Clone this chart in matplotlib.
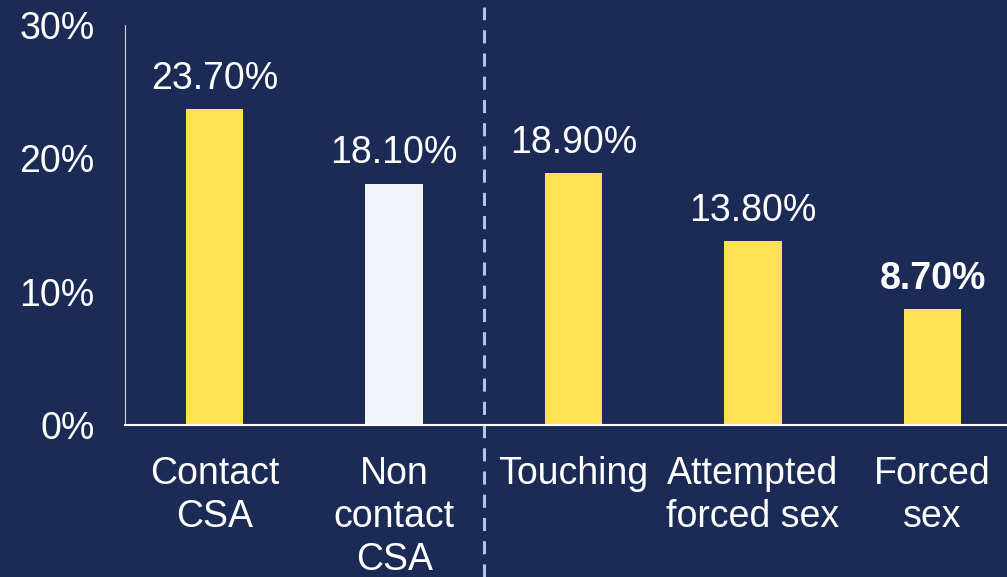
import matplotlib.pyplot as plt

categories = ["Contact\nCSA", "Non\ncontact\nCSA", "Touching", "Attempted\nforced sex", "Forced\nsex"]
values = [23.7, 18.1, 18.9, 13.8, 8.7]
value_labels = ["23.70%", "18.10%", "18.90%", "13.80%", "8.70%"]
bar_colors = ["#FFE155", "#F2F4FB", "#FFE155", "#FFE155", "#FFE155"]
yticks = [0, 10, 20, 30]
ytick_labels = ["0%", "10%", "20%", "30%"]

bg = "#1B2B55"
plt.rcParams['font.family'] = ['Liberation Sans', 'DejaVu Sans']

fig = plt.figure(figsize=(10.07, 5.77), dpi=100, facecolor=bg)
ax = fig.add_axes([0.1241, 0.2634, 0.891, 0.6932], facecolor=bg)

x = range(len(categories))
ax.bar(x, values, width=0.32, color=bar_colors)

for i, (v, lab) in enumerate(zip(values, value_labels)):
    ax.annotate(lab, (i, v), xytext=(0, 9), textcoords="offset points",
                ha="center", va="bottom", color="white", fontsize=27,
                fontweight="bold" if i == len(values) - 1 else "normal")

ax.set_xlim(-0.5, 4.5)
ax.set_ylim(0, 30)
ax.set_xticks(list(x))
ax.set_xticklabels(categories, linespacing=1.25)
ax.set_yticks(yticks)
ax.set_yticklabels(ytick_labels)
ax.tick_params(axis="both", length=0, colors="white", labelsize=27)
ax.tick_params(axis="x", pad=22)
ax.tick_params(axis="y", pad=22)

for side in ["top", "right"]:
    ax.spines[side].set_visible(False)
ax.spines["left"].set_color("#D9D9D9")
ax.spines["bottom"].set_color("white")
ax.spines["bottom"].set_linewidth(1.5)

ax.axvline(1.5, ymin=-0.38, ymax=1.045, clip_on=False, color="#B4C4E6",
           linestyle=(0, (4.3, 3.3)), linewidth=2.2)

fig.savefig("out.png", dpi=100, facecolor=bg)
